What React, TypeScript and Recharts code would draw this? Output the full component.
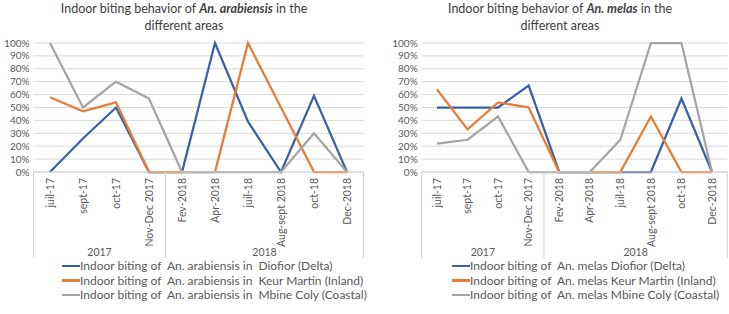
import React from 'react';
import { LineChart, Line, XAxis, YAxis, CartesianGrid, Legend } from 'recharts';

const categories = [
  'juil-17',
  'sept-17',
  'oct-17',
  'Nov-Dec 2017',
  'Fev-2018',
  'Apr-2018',
  'juil-18',
  'Aug-sept 2018',
  'oct-18',
  'Dec-2018',
];
const years = ['2017', '2017', '2017', '2017', '2018', '2018', '2018', '2018', '2018', '2018'];
const yTicks = [0, 10, 20, 30, 40, 50, 60, 70, 80, 90, 100];

// An. arabiensis (%)
const arabiensisDiofior = [0, 26, 50, 0, 0, 100, 39, 0, 59, 0];
const arabiensisKeurMartin = [58, 47, 54, 0, 0, 0, 100, 50, 0, 0];
const arabiensisMbineColy = [100, 50, 70, 57, 0, 0, 0, 0, 30, 0];

// An. melas (%)
const melasDiofior = [50, 50, 50, 67, 0, 0, 0, 0, 57, 0];
const melasKeurMartin = [64, 33, 54, 50, 0, 0, 0, 43, 0, 0];
const melasMbineColy = [22, 25, 43, 0, 0, 0, 25, 100, 100, 0];

const arabiensisNames = [
  'Indoor biting of  An. arabiensis in  Diofior (Delta)',
  'Indoor biting of  An. arabiensis in  Keur Martin (Inland)',
  'Indoor biting of  An. arabiensis in  Mbine Coly (Coastal)',
];
const melasNames = [
  'Indoor biting of  An. melas Diofior (Delta)',
  'Indoor biting of  An. melas Keur Martin (Inland)',
  'Indoor biting of  An. melas Mbine Coly (Coastal)',
];

const COLORS = ['#3a60a8', '#e97c35', '#a5a5a5'];
const FONT = 'Lato, "Open Sans", sans-serif';

const buildRows = (a: number[], b: number[], c: number[]) =>
  categories.map((cat, i) => ({ cat, year: years[i], s1: a[i], s2: b[i], s3: c[i] }));

interface PanelProps {
  left: number;
  width: number;
  yAxisWidth: number;
  marginRight: number;
  species: string;
  titleCenter: number;
  legendLeft: number;
  rows: ReturnType<typeof buildRows>;
  names: string[];
}

const Panel: React.FC<PanelProps> = ({
  left,
  width,
  yAxisWidth,
  marginRight,
  species,
  titleCenter,
  legendLeft,
  rows,
  names,
}) => {
  const band = (width - yAxisWidth - marginRight) / categories.length;

  const renderTick = (props: any) => {
    const { x, y, payload, index } = props;
    const yr = years[index];
    const isStart = index === 0 || years[index - 1] !== yr;
    const isEnd = index === years.length - 1;
    let groupSize = 0;
    if (isStart) {
      for (let j = index; j < years.length && years[j] === yr; j++) groupSize++;
    }
    return (
      <g>
        <text
          x={x}
          y={y + 6}
          transform={`rotate(-90, ${x}, ${y + 6})`}
          textAnchor="end"
          dy="0.35em"
          fontSize={10.5}
          fill="#595959"
          fontFamily={FONT}
        >
          {payload.value}
        </text>
        {isStart && (
          <line x1={x - band / 2} x2={x - band / 2} y1={y} y2={y + 86} stroke="#d0d0d0" strokeWidth={1} />
        )}
        {isEnd && (
          <line x1={x + band / 2} x2={x + band / 2} y1={y} y2={y + 86} stroke="#d0d0d0" strokeWidth={1} />
        )}
        {isStart && (
          <text
            x={x + ((groupSize - 1) * band) / 2}
            y={y + 84}
            textAnchor="middle"
            fontSize={10.5}
            fill="#595959"
            fontFamily={FONT}
          >
            {yr}
          </text>
        )}
      </g>
    );
  };

  const renderLegend = (props: any) => (
    <div style={{ fontFamily: FONT, fontSize: 12, color: '#595959' }}>
      {(props.payload || []).map((entry: any) => (
        <div key={entry.value} style={{ display: 'flex', alignItems: 'center', height: 14.5 }}>
          <span style={{ display: 'inline-block', width: 18, height: 2.5, background: entry.color }} />
          <span style={{ whiteSpace: 'pre', lineHeight: '13px' }}>{entry.value}</span>
        </div>
      ))}
    </div>
  );

  return (
    <div style={{ position: 'absolute', left, top: 0, width, height: 314 }}>
      <div
        style={{
          position: 'absolute',
          left: titleCenter - 170,
          width: 340,
          top: 0,
          textAlign: 'center',
          fontFamily: FONT,
          fontSize: 12.5,
          lineHeight: '17px',
          color: '#404040',
        }}
      >
        Indoor biting behavior of <b><i>{species}</i></b> in the
        <br />
        different areas
      </div>
      <LineChart
        width={width}
        height={314}
        data={rows}
        margin={{ top: 43, right: marginRight, bottom: 0, left: 0 }}
      >
        <CartesianGrid vertical={false} stroke="#d9d9d9" />
        <XAxis
          dataKey="cat"
          interval={0}
          height={142}
          padding={{ left: band / 2, right: band / 2 }}
          tickLine={false}
          tickSize={0}
          tickMargin={0}
          axisLine={{ stroke: '#d0d0d0' }}
          tick={renderTick}
        />
        <YAxis
          width={yAxisWidth}
          domain={[0, 100]}
          ticks={yTicks}
          interval={0}
          tickFormatter={(v: number) => `${v}%`}
          axisLine={false}
          tickLine={false}
          tickSize={0}
          tickMargin={4}
          tick={{ fontSize: 10, fill: '#595959', fontFamily: FONT }}
        />
        <Legend
          layout="vertical"
          align="center"
          verticalAlign="middle"
          wrapperStyle={{ left: legendLeft, top: 258.5, width: 'auto' }}
          content={renderLegend}
        />
        {['s1', 's2', 's3'].map((key, i) => (
          <Line
            key={key}
            type="linear"
            dataKey={key}
            name={names[i]}
            stroke={COLORS[i]}
            strokeWidth={2.25}
            dot={false}
            activeDot={false}
            isAnimationActive={false}
          />
        ))}
      </LineChart>
    </div>
  );
};

export default function App() {
  const arabiensisRows = buildRows(arabiensisDiofior, arabiensisKeurMartin, arabiensisMbineColy);
  const melasRows = buildRows(melasDiofior, melasKeurMartin, melasMbineColy);
  return (
    <div style={{ position: 'absolute', left: 0, top: 0, width: 729, height: 314, background: '#fff' }}>
      <Panel
        left={0}
        width={365}
        yAxisWidth={33.5}
        marginRight={1.5}
        species="An. arabiensis"
        titleCenter={184}
        legendLeft={62}
        rows={arabiensisRows}
        names={arabiensisNames}
      />
      <Panel
        left={365}
        width={364}
        yAxisWidth={56.7}
        marginRight={1.7}
        species="An. melas"
        titleCenter={195}
        legendLeft={87}
        rows={melasRows}
        names={melasNames}
      />
    </div>
  );
}
